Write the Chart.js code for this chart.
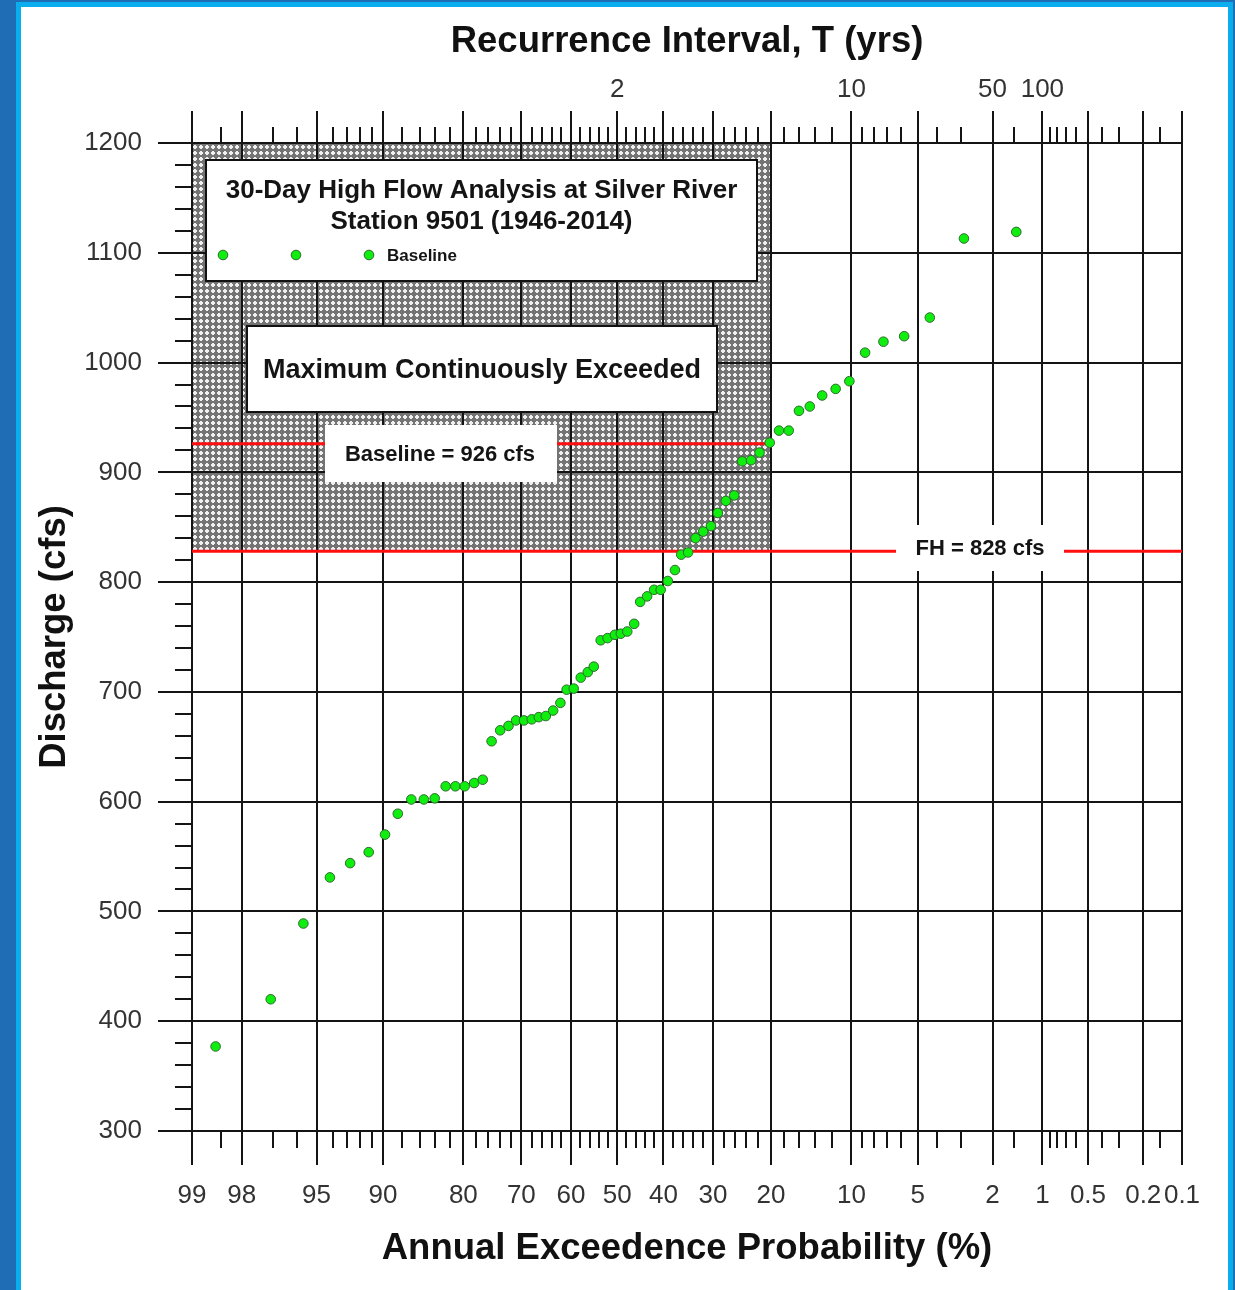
<!DOCTYPE html>
<html>
<head>
<meta charset="utf-8">
<title>30-Day High Flow Analysis at Silver River</title>
<script src="https://cdn.jsdelivr.net/npm/chart.js@4.4.1/dist/chart.umd.min.js"></script>
<style>
  html, body { margin: 0; padding: 0; width: 1235px; height: 1290px; overflow: hidden; background: #1f6db4; }
  #panel { position: absolute; left: 16px; top: 2px; width: 1207px; height: 1300px; background: #fff;
           border: 5px solid #0aaeef; border-bottom: none; }
  #chart { position: absolute; left: 0; top: 0; }
</style>
</head>
<body>
<div id="panel"></div>
<canvas id="chart" width="1235" height="1290"></canvas>
<script>
// ---- Data -------------------------------------------------------------
// Annual exceedance probability (%) of each ranked 30-day high flow
const exceedancePct = [98.6, 97.1, 95.7, 94.2, 92.8, 91.3, 89.8, 88.5, 87.0, 85.5,
  84.1, 82.6, 81.2, 79.8, 78.3, 76.9, 75.4, 73.9, 72.4, 71.0,
  69.5, 68.0, 66.6, 65.2, 63.7, 62.2, 60.9, 59.4, 57.9, 56.4,
  55.1, 53.6, 52.1, 50.5, 49.2, 47.8, 46.3, 45.0, 43.5, 42.0,
  40.6, 39.1, 37.6, 36.3, 34.9, 33.4, 31.9, 30.4, 29.1, 27.6,
  26.1, 24.7, 23.2, 21.8, 20.2, 18.8, 17.4, 16.0, 14.6, 13.1,
  11.6, 10.2, 8.75, 7.26, 5.82, 4.36, 2.89, 1.45];
// 30-day high flow discharge (cfs)
const dischargeCfs = [377, 420, 489, 531, 544, 554, 570, 589, 602, 602,
  603, 614, 614, 614, 617, 620, 655, 665, 669, 674,
  674, 675, 677, 678, 683, 690, 702, 703, 713, 718,
  723, 747, 749, 752, 753, 755, 762, 782, 787, 793,
  793, 801, 811, 825, 827, 840, 846, 851, 863, 874,
  879, 910, 911, 918, 927, 938, 938, 956, 960, 970,
  976, 983, 1009, 1019, 1024, 1041, 1113, 1119];

// Probability axis: labelled (major) and unlabelled (minor) ticks, in %
const probMajorTicks = [99, 98, 95, 90, 80, 70, 60, 50, 40, 30, 20, 10, 5, 2, 1, 0.5, 0.2, 0.1];
const probMinorTicks = [98.5, 97, 96, 94, 93, 92, 91, 88, 86, 84, 82, 78, 76, 74, 72,
  68, 66, 64, 62, 58, 56, 54, 52, 48, 46, 44, 42, 38, 36, 34, 32, 28, 26, 24, 22,
  18, 16, 14, 12, 9, 8, 7, 6, 4, 3, 1.5, 0.9, 0.8, 0.7, 0.6, 0.4, 0.3, 0.15];
// Recurrence interval labels (years) on the top axis
const recurrenceYears = [2, 10, 50, 100];

// Reference flows (cfs) and the exceedance limit of the shaded zone (%)
const baselineCfs = 926;
const fhCfs = 828;
const shadedToPct = 20;

const FONT = "'Liberation Sans', Arial, Helvetica, sans-serif";

// ---- Normal probability scale -----------------------------------------
// Inverse standard normal CDF (Acklam's rational approximation)
function probit(p) {
  const a = [-3.969683028665376e+01, 2.209460984245205e+02, -2.759285104469687e+02,
             1.383577518672690e+02, -3.066479806614716e+01, 2.506628277459239e+00];
  const b = [-5.447609879822406e+01, 1.615858368580409e+02, -1.556989798598866e+02,
             6.680131188771972e+01, -1.328068155288572e+01];
  const c = [-7.784894002430293e-03, -3.223964580411365e-01, -2.400758277161838e+00,
             -2.549732539343734e+00, 4.374664141464968e+00, 2.938163982698783e+00];
  const d = [7.784695709041462e-03, 3.224671290700398e-01, 2.445134137142996e+00,
             3.754408661907416e+00];
  const pl = 0.02425;
  let q, r;
  if (p < pl) {
    q = Math.sqrt(-2 * Math.log(p));
    return (((((c[0]*q+c[1])*q+c[2])*q+c[3])*q+c[4])*q+c[5]) / ((((d[0]*q+d[1])*q+d[2])*q+d[3])*q+1);
  }
  if (p > 1 - pl) {
    q = Math.sqrt(-2 * Math.log(1 - p));
    return -(((((c[0]*q+c[1])*q+c[2])*q+c[3])*q+c[4])*q+c[5]) / ((((d[0]*q+d[1])*q+d[2])*q+d[3])*q+1);
  }
  q = p - 0.5; r = q * q;
  return (((((a[0]*r+a[1])*r+a[2])*r+a[3])*r+a[4])*r+a[5])*q /
         (((((b[0]*r+b[1])*r+b[2])*r+b[3])*r+b[4])*r+1);
}

// Exceedance probability (%) plotted on a normal-probability axis
class ProbabilityScale extends Chart.LinearScale {
  static id = 'probability';
  determineDataLimits() {
    this.min = this.options.min;
    this.max = this.options.max;
  }
  buildTicks() {
    return (this.options.probTicks || []).map(v => ({ value: v }));
  }
  _z(v) { return probit(1 - v / 100); }
  getPixelForValue(v) {
    const z0 = this._z(this.min), z1 = this._z(this.max);
    return this.getPixelForDecimal((this._z(v) - z0) / (z1 - z0));
  }
  getValueForPixel(px) {
    let lo = this.max, hi = this.min;
    for (let i = 0; i < 60; i++) {
      const mid = (lo + hi) / 2;
      if (this.getPixelForValue(mid) > px) lo = mid; else hi = mid;
    }
    return (lo + hi) / 2;
  }
}
Chart.register(ProbabilityScale);

// ---- Decorations --------------------------------------------------------
function hatchPattern(ctx) {
  const n = 6;
  const c = document.createElement('canvas');
  c.width = n; c.height = n;
  const g = c.getContext('2d');
  g.fillStyle = '#747474';
  g.fillRect(0, 0, n, n);
  g.fillStyle = '#f0f0f0';
  for (let i = 0; i < n; i++) {
    for (let j = 0; j < n; j++) {
      if (Math.abs(i - 2.5) + Math.abs(j - 2.5) <= 2) g.fillRect(i, j, 1, 1);
    }
  }
  return ctx.createPattern(c, 'repeat');
}

function whiteBox(ctx, x, y, w, h, bordered) {
  ctx.fillStyle = '#ffffff';
  ctx.fillRect(x, y, w, h);
  if (bordered) {
    ctx.strokeStyle = '#111111';
    ctx.lineWidth = 2;
    ctx.strokeRect(x, y, w, h);
  }
}

function boldText(ctx, text, x, y, size, align) {
  ctx.font = `bold ${size}px ${FONT}`;
  ctx.fillStyle = '#141414';
  ctx.textAlign = align || 'center';
  ctx.textBaseline = 'middle';
  ctx.fillText(text, x, y);
}

const overlayPlugin = {
  id: 'flowOverlays',
  beforeDraw(chart) {
    // shaded zone above the FH flow, left of the 20 % line
    const { ctx } = chart;
    const xs = chart.scales.x, ys = chart.scales.y;
    const x0 = xs.getPixelForValue(xs.min), x1 = xs.getPixelForValue(shadedToPct);
    const y0 = ys.getPixelForValue(ys.max), y1 = ys.getPixelForValue(fhCfs);
    ctx.save();
    ctx.fillStyle = hatchPattern(ctx);
    ctx.fillRect(x0, y0, x1 - x0, y1 - y0);
    ctx.restore();
  },
  beforeDatasetsDraw(chart) {
    const { ctx, chartArea: ca } = chart;
    const xs = chart.scales.x, ys = chart.scales.y;
    ctx.save();

    // reference flow lines
    ctx.strokeStyle = '#ff1010';
    ctx.lineWidth = 3;
    ctx.beginPath();
    const yb = ys.getPixelForValue(baselineCfs);
    ctx.moveTo(xs.getPixelForValue(xs.min), yb);
    ctx.lineTo(xs.getPixelForValue(shadedToPct), yb);
    const yf = ys.getPixelForValue(fhCfs);
    ctx.moveTo(xs.getPixelForValue(xs.min), yf);
    ctx.lineTo(xs.getPixelForValue(xs.max), yf);
    ctx.stroke();

    // legend box
    const lx = ca.left + 14, ly = ca.top + 17, lw = 551, lh = 121;
    whiteBox(ctx, lx, ly, lw, lh, true);
    boldText(ctx, '30-Day High Flow Analysis at Silver River', lx + lw / 2, ly + 31, 26);
    boldText(ctx, 'Station 9501 (1946-2014)', lx + lw / 2, ly + 62, 26);
    const ds = chart.data.datasets[0];
    [17, 90, 163].forEach(dx => {
      ctx.beginPath();
      ctx.arc(lx + dx, ly + 95, ds.pointRadius, 0, Math.PI * 2);
      ctx.fillStyle = ds.pointBackgroundColor;
      ctx.fill();
      ctx.lineWidth = ds.pointBorderWidth;
      ctx.strokeStyle = ds.pointBorderColor;
      ctx.stroke();
    });
    boldText(ctx, ds.label, lx + 181, ly + 96, 17, 'left');

    // zone label
    const mx = ca.left + 55, my = ca.top + 183, mw = 470, mh = 86;
    whiteBox(ctx, mx, my, mw, mh, true);
    boldText(ctx, 'Maximum Continuously Exceeded', mx + mw / 2, my + mh / 2 + 2, 27);

    // flow line labels
    const bx = ca.left + 133, by = ca.top + 282, bw = 232, bh = 57;
    whiteBox(ctx, bx, by, bw, bh, false);
    boldText(ctx, `Baseline = ${baselineCfs} cfs`, bx + bw / 2 - 1, by + bh / 2 + 1, 22);

    const fx = ca.left + 704, fy = ca.top + 382, fw = 168, fh = 46;
    whiteBox(ctx, fx, fy, fw, fh, false);
    boldText(ctx, `FH = ${fhCfs} cfs`, fx + fw / 2, fy + fh / 2 + 1, 22);

    ctx.restore();
  },
  afterDraw(chart) {
    const { ctx, chartArea: ca } = chart;
    const xs = chart.scales.x, ys = chart.scales.y;
    ctx.save();
    ctx.strokeStyle = '#141414';
    ctx.lineWidth = 2;
    ctx.beginPath();
    // probability ticks, bottom (minor) and top (major + minor)
    probMinorTicks.forEach(p => {
      const x = Math.round(xs.getPixelForValue(p));
      ctx.moveTo(x, ca.bottom); ctx.lineTo(x, ca.bottom + 17);
      ctx.moveTo(x, ca.top); ctx.lineTo(x, ca.top - 16);
    });
    probMajorTicks.forEach(p => {
      const x = Math.round(xs.getPixelForValue(p));
      ctx.moveTo(x, ca.top); ctx.lineTo(x, ca.top - 32);
    });
    // discharge minor ticks every 20 cfs
    for (let v = ys.min; v <= ys.max; v += 20) {
      if (v % 100 === 0) continue;
      const y = Math.round(ys.getPixelForValue(v));
      ctx.moveTo(ca.left, y); ctx.lineTo(ca.left - 17, y);
    }
    ctx.stroke();
    ctx.restore();
  }
};

// ---- Chart ---------------------------------------------------------------
const points = exceedancePct.map((p, i) => ({ x: p, y: dischargeCfs[i] }));
const tickFont = { family: FONT, size: 26 };
const titleFont = { family: FONT, size: 36.5, weight: 'bold' };

new Chart(document.getElementById('chart'), {
  type: 'scatter',
  data: {
    datasets: [{
      label: 'Baseline',
      data: points,
      pointRadius: 4.8,
      pointBackgroundColor: '#10ee10',
      pointBorderColor: '#2e6a2e',
      pointBorderWidth: 1
    }]
  },
  options: {
    responsive: false,
    animation: false,
    events: [],
    layout: { padding: { left: 0, right: 53, top: 0, bottom: 0 } },
    plugins: { legend: { display: false }, tooltip: { enabled: false } },
    scales: {
      x: {
        type: 'probability', position: 'bottom', min: 99, max: 0.1,
        probTicks: probMajorTicks,
        grid: { color: '#141414', lineWidth: 2, tickLength: 34 },
        border: { display: false },
        ticks: { autoSkip: false, maxRotation: 0, minRotation: 0, padding: 15,
                 color: '#333333', font: tickFont, callback: v => String(v) },
        title: { display: true, text: 'Annual Exceedence Probability (%)', color: '#111111',
                 font: titleFont, padding: { top: 0, bottom: 19 } },
        afterFit: s => { s.height = 159; }
      },
      xTop: {
        type: 'probability', position: 'top', min: 99, max: 0.1,
        probTicks: recurrenceYears.map(t => 100 / t),
        grid: { display: false, drawOnChartArea: false, drawTicks: false },
        border: { display: false },
        ticks: { autoSkip: false, maxRotation: 0, minRotation: 0, padding: 38,
                 color: '#333333', font: tickFont, callback: v => String(Math.round(100 / v)) },
        title: { display: true, text: 'Recurrence Interval, T (yrs)', color: '#111111',
                 font: titleFont, padding: { top: 20, bottom: 0 } },
        afterFit: s => { s.height = 143; }
      },
      y: {
        type: 'linear', position: 'left', min: 300, max: 1200,
        ticks: { stepSize: 100, padding: 16, color: '#333333', font: tickFont,
                 callback: v => String(v) },
        grid: { color: '#141414', lineWidth: 2, tickLength: 34 },
        border: { display: false },
        title: { display: true, text: 'Discharge (cfs)', color: '#111111',
                 font: titleFont, padding: { top: 33, bottom: 0 } },
        afterFit: s => { s.width = 192; }
      }
    }
  },
  plugins: [overlayPlugin]
});
</script>
</body>
</html>
